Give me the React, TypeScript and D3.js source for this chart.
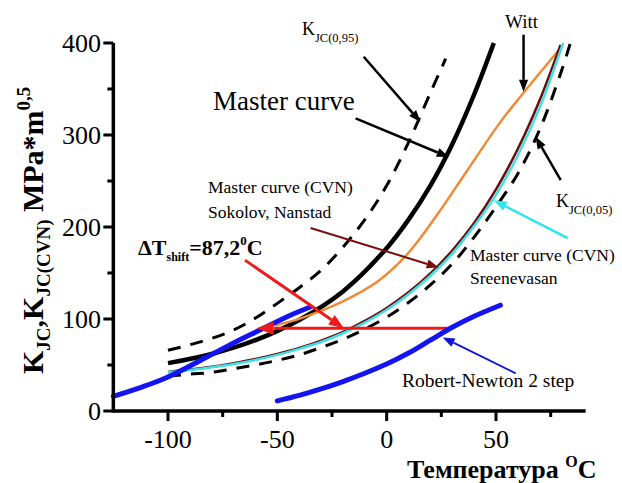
import React from 'react';
import * as d3 from 'd3';

// readings: [temperature °C, K MPa*m^0.5]
const masterCurve = [[-100, 52], [-80, 62], [-60, 77], [-40, 99], [-20, 130], [0, 177], [10, 208], [20, 245], [30, 290], [40, 344], [49, 400]];
const upper95 = [[-100, 66], [-90, 72], [-80, 79], [-70, 88], [-60, 101], [-50, 117], [-40, 134], [-30, 153], [-20, 178], [-10, 208], [0, 245], [10, 292], [20, 346], [27, 383]];
const lower05 = [[-100, 38], [-90, 40], [-80, 42], [-70, 46], [-60, 50], [-50, 55], [-40, 61], [-30, 69], [-20, 78], [-10, 89], [0, 102], [10, 118], [20, 137], [30, 160], [40, 189], [50, 222], [60, 258], [70, 306], [80, 370], [84, 400]];
const sokolovCVN = [[-100, 42.5], [-90, 45], [-80, 48], [-70, 52], [-60, 56.5], [-50, 62], [-40, 68.5], [-30, 76.5], [-20, 86], [-10, 98], [0, 112], [10, 129], [20, 149.5], [30, 174.5], [40, 204.5], [50, 241], [60, 285], [70, 338], [79.5, 398]];
const sreenevasanCVN = [[-100, 42], [-90, 44.5], [-80, 47.5], [-70, 51], [-60, 55.5], [-50, 61], [-40, 67.5], [-30, 75], [-20, 84.5], [-10, 96], [0, 110], [10, 127], [20, 147], [30, 171], [40, 201], [50, 235], [60, 278], [70, 330], [80.7, 400]];
const witt = [[-51, 93], [-39, 101], [-21, 118], [-4, 141], [10, 172], [23, 213], [37, 262], [52, 314], [64, 350], [80, 396]];
const blueLow = [[-125, 16], [-112, 26], [-100, 37], [-82, 59], [-70, 74], [-58, 88], [-46, 102], [-35, 113]];
const robertNewton = [[-50, 11], [-40, 17], [-30, 24], [-20, 32], [-10, 41], [0, 51], [10, 63], [20, 77], [30, 91], [40, 103], [52, 115]];

const shiftLevel = 90;
const shiftFrom = 27.7;
const shiftTo = -59.5;

const xMajor = [-100, -50, 0, 50];
const xMinor = [-75, -25, 25, 75];
const yMajor = [0, 100, 200, 300, 400];
const yMinor = [50, 150, 250, 350];

// annotation arrows, in data units
const arrows = [
  { from: [-10.5, 385], to: [15.5, 314], color: '#000', w: 2.5, head: 12 },
  { from: [-14.2, 318], to: [28.4, 276], color: '#000', w: 2.5, head: 12 },
  { from: [62.6, 409], to: [62.6, 347], color: '#000', w: 2.5, head: 12 },
  { from: [79.6, 251], to: [68.1, 298], color: '#000', w: 2.5, head: 12 },
  { from: [-34.8, 199], to: [23.8, 156], color: '#7b0d0d', w: 2, head: 12 },
  { from: [82.8, 188], to: [49, 229], color: '#2ee6ea', w: 2.5, head: 13 },
  { from: [59, 41], to: [25.6, 80], color: '#1414d8', w: 2, head: 12 },
  { from: [-64.8, 164], to: [-19.6, 90], color: '#ee1b1b', w: 3, head: 15 },
];

const serif = 'Liberation Serif, DejaVu Serif, serif';

const x = d3.scaleLinear().domain([-100, 50]).range([168, 496]);
const y = d3.scaleLinear().domain([0, 400]).range([411, 43]);

const line = d3.line<number[]>()
  .x(d => x(d[0]))
  .y(d => y(d[1]))
  .curve(d3.curveCatmullRom.alpha(0.5));

function Arrow({ a }: { a: any }) {
  const x1 = x(a.from[0]), y1 = y(a.from[1]);
  const x2 = x(a.to[0]), y2 = y(a.to[1]);
  const ang = Math.atan2(y2 - y1, x2 - x1);
  const h = a.head, hw = h * 0.38;
  const bx = x2 - h * Math.cos(ang), by = y2 - h * Math.sin(ang);
  const p1 = [bx + hw * Math.sin(ang), by - hw * Math.cos(ang)];
  const p2 = [bx - hw * Math.sin(ang), by + hw * Math.cos(ang)];
  return (
    <g>
      <line x1={x1} y1={y1} x2={bx} y2={by} stroke={a.color} strokeWidth={a.w} />
      <polygon points={`${x2},${y2} ${p1[0]},${p1[1]} ${p2[0]},${p2[1]}`} fill={a.color} />
    </g>
  );
}

export default function App() {
  const x0 = x(-125), x1 = x(91);
  const shiftArrow = { from: [shiftFrom, shiftLevel], to: [shiftTo, shiftLevel], color: '#ee1b1b', w: 3, head: 17 };
  return (
    <svg width={622} height={483} style={{ position: 'absolute', left: 0, top: 0, background: '#fff' }}>
      <g fontFamily={serif}>
        {/* curves */}
        <path d={line(upper95) || ''} fill="none" stroke="#000" strokeWidth={3} strokeDasharray="13,10" />
        <path d={line(lower05) || ''} fill="none" stroke="#000" strokeWidth={3} strokeDasharray="13,10" />
        <path d={line(masterCurve) || ''} fill="none" stroke="#000" strokeWidth={4.5} />
        <path d={line(witt) || ''} fill="none" stroke="#ef8a35" strokeWidth={2.5} />
        <path d={line(sokolovCVN) || ''} fill="none" stroke="#6b0c0c" strokeWidth={2.5} />
        <path d={line(sreenevasanCVN) || ''} fill="none" stroke="#3ee0e4" strokeWidth={2.5} />
        <path d={line(blueLow) || ''} fill="none" stroke="#1414f0" strokeWidth={5} strokeLinecap="round" />
        <Arrow a={shiftArrow} />
        <path d={line(robertNewton) || ''} fill="none" stroke="#1414f0" strokeWidth={5} strokeLinecap="round" />
        {arrows.map((a, i) => <Arrow key={i} a={a} />)}

        {/* axes */}
        <line x1={x0} x2={x1} y1={y(0)} y2={y(0)} stroke="#000" strokeWidth={3.5} />
        <line x1={x0} x2={x0} y1={y(0) + 1.5} y2={y(400)} stroke="#000" strokeWidth={3.5} />
        {xMajor.map(t => (
          <g key={t}>
            <line x1={x(t)} x2={x(t)} y1={y(0)} y2={y(0) + 10} stroke="#000" strokeWidth={3} />
            <text x={x(t)} y={448} textAnchor="middle" fontSize={26}>{t}</text>
          </g>
        ))}
        {xMinor.map(t => <line key={t} x1={x(t)} x2={x(t)} y1={y(0)} y2={y(0) + 6} stroke="#000" strokeWidth={3} />)}
        {yMajor.map(v => (
          <g key={v}>
            <line x1={x0 - 10} x2={x0} y1={y(v)} y2={y(v)} stroke="#000" strokeWidth={3} />
            <text x={101} y={y(v) + 9} textAnchor="end" fontSize={26}>{v}</text>
          </g>
        ))}
        {yMinor.map(v => <line key={v} x1={x0 - 6} x2={x0} y1={y(v)} y2={y(v)} stroke="#000" strokeWidth={3} />)}

        {/* axis titles */}
        <text transform="translate(43,374) rotate(-90)" fontWeight="bold" fontSize={30}>
          K<tspan fontSize={19} dy={7}>JC</tspan><tspan dy={-7}>,K</tspan>
          <tspan fontSize={19} dy={7}>JC(CVN)</tspan><tspan dy={-7}> MPa*m</tspan>
          <tspan fontSize={19} dy={-13}>0,5</tspan>
        </text>
        <text x={407} y={478} fontWeight="bold" fontSize={26}>
          Температура <tspan fontSize={16} dy={-11}>O</tspan><tspan dy={11}>C</tspan>
        </text>

        {/* annotations */}
        <text x={302} y={35} fontSize={18}>K<tspan fontSize={12.5} dy={7}>JC(0,95)</tspan></text>
        <text x={505} y={28} fontSize={19}>Witt</text>
        <text x={213} y={110} fontSize={27}>Master curve</text>
        <text x={208} y={193} fontSize={17.5}>Master curve (CVN)</text>
        <text x={208} y={218} fontSize={17.5}>Sokolov, Nanstad</text>
        <text x={556} y={207} fontSize={18}>K<tspan fontSize={12.5} dy={7}>JC(0,05)</tspan></text>
        <text x={470} y={261} fontSize={17.5}>Master curve (CVN)</text>
        <text x={470} y={284} fontSize={17.5}>Sreenevasan</text>
        <text x={402} y={387} fontSize={19.5}>Robert-Newton 2 step</text>
        <text x={138} y={255} fontWeight="bold" fontSize={22}>
          ΔT<tspan fontSize={12} dy={6}>shift</tspan><tspan dy={-6}>=87,2</tspan>
          <tspan fontSize={13} dy={-10}>0</tspan><tspan dy={10}>C</tspan>
        </text>
      </g>
    </svg>
  );
}
